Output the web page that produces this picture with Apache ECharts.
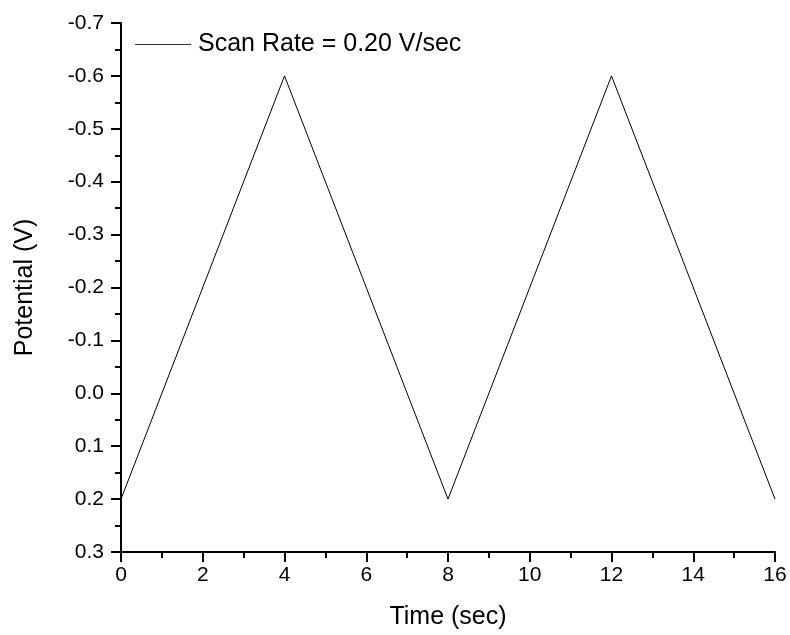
<!DOCTYPE html>
<html>
<head>
<meta charset="utf-8">
<script src="https://cdn.jsdelivr.net/npm/echarts@6/dist/echarts.min.js"></script>
<style>
  html, body { margin: 0; padding: 0; background: #fff; }
  #chart { width: 790px; height: 635px; }
</style>
</head>
<body>
<div id="chart"></div>
<script>
// Triangular potential sweep: time (s) vs applied potential (V)
const timeSec = [0, 4, 8, 12, 16];
const potentialV = [0.2, -0.6, 0.2, -0.6, 0.2];
const seriesName = 'Scan Rate = 0.20 V/sec';

const xTicks = { min: 0, max: 16, interval: 2 };
const yTicks = { min: -0.7, max: 0.3, interval: 0.1 };

const points = timeSec.map((t, i) => [t, potentialV[i]]);

const FONT = 'Liberation Sans, Arial, sans-serif';
const axisCommon = {
  axisLine: { show: true, onZero: false, lineStyle: { color: '#000', width: 2 } },
  axisTick: { show: true, inside: false, length: 10, lineStyle: { color: '#000', width: 2 } },
  minorTick: { show: true, splitNumber: 2, length: 6, lineStyle: { color: '#000', width: 2 } },
  splitLine: { show: false },
  nameTextStyle: { color: '#000', fontSize: 25, fontFamily: FONT }
};

const chart = echarts.init(document.getElementById('chart'), null, { renderer: 'canvas' });
chart.setOption({
  animation: false,
  backgroundColor: '#fff',
  grid: { left: 121, right: 15, top: 23, bottom: 82, containLabel: false },
  legend: {
    show: true,
    left: 135,
    top: 32,
    padding: 0,
    icon: 'rect',
    itemWidth: 56,
    itemHeight: 1,
    itemGap: 0,
    itemStyle: { color: '#333', borderWidth: 0 },
    textStyle: { color: '#000', fontSize: 25, fontFamily: FONT, padding: [0, 0, 0, 2] },
    data: [seriesName]
  },
  xAxis: Object.assign({}, axisCommon, {
    type: 'value',
    min: xTicks.min, max: xTicks.max, interval: xTicks.interval,
    name: 'Time (sec)', nameLocation: 'middle', nameGap: 53,
    axisLabel: { color: '#000', fontSize: 21, fontFamily: FONT, margin: 13 }
  }),
  yAxis: Object.assign({}, axisCommon, {
    type: 'value',
    inverse: true,
    min: yTicks.min, max: yTicks.max, interval: yTicks.interval,
    name: 'Potential (V)', nameLocation: 'middle', nameGap: 83,
    axisLabel: {
      color: '#000', fontSize: 21, fontFamily: FONT, margin: 17,
      formatter: v => (Math.abs(v) < 1e-9 ? 0 : v).toFixed(1)
    }
  }),
  series: [{
    name: seriesName,
    type: 'line',
    data: points,
    symbol: 'none',
    itemStyle: { color: '#000' },
    lineStyle: { color: '#000', width: 1 },
    clip: false
  }]
});
</script>
</body>
</html>
